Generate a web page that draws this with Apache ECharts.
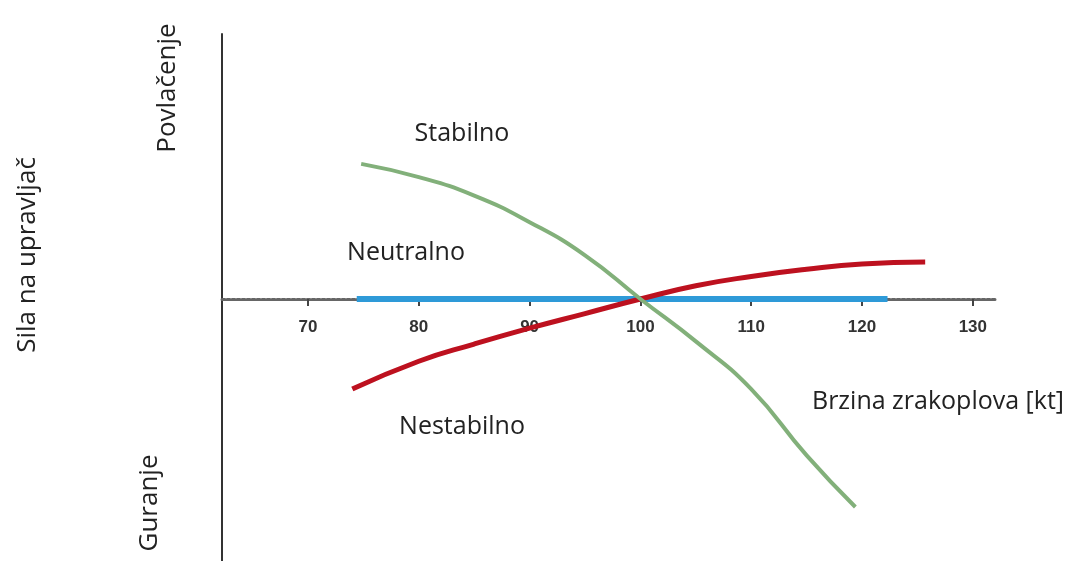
<!DOCTYPE html>
<html>
<head>
<meta charset="utf-8">
<title>Sila na upravljač</title>
<script src="https://cdn.jsdelivr.net/npm/echarts@6/dist/echarts.min.js"></script>
<style>
  html, body { margin: 0; padding: 0; background: #fff; }
  #chart { width: 1078px; height: 561px; }
</style>
</head>
<body>
<div id="chart"></div>
<script>
// brzina [kt] i sila (proizvoljne jedinice), očitano sa slike
const stabilnoX = [74.8, 80, 85, 90, 95, 100, 105, 110, 115, 119.4]
const stabilnoY = [5.1, 4.6, 3.9, 2.9, 1.65, 0, -1.6, -3.4, -5.9, -7.85]

const nestabilnoX = [74, 80, 85, 90, 95, 100, 105, 110, 115, 120, 125.7]
const nestabilnoY = [-3.4, -2.35, -1.7, -1.1, -0.55, 0, 0.5, 0.85, 1.12, 1.32, 1.4]

const neutralnoX = [74.4, 122.3]
const neutralnoY = [0, 0]

const tickValues = [70, 80, 90, 100, 110, 120, 130]

const pairs = (xs, ys) => xs.map((x, i) => [x, ys[i]])

const font = '"Open Sans", "Noto Sans", sans-serif'
const txt = (text, x, y, rot, size) => ({
  type: 'text',
  x, y,
  rotation: rot ? Math.PI / 2 : 0,
  style: {
    text,
    font: (size || 25) + 'px ' + font,
    fill: '#222',
    align: 'center',
    verticalAlign: 'middle'
  }
})

const chart = echarts.init(document.getElementById('chart'), null, { renderer: 'canvas' })

chart.setOption({
  backgroundColor: '#fff',
  animation: false,
  grid: { left: 222, right: 83, top: 34, height: 530, outerBoundsMode: 'none' },
  xAxis: {
    type: 'value',
    min: 62.24,
    max: 132.0,
    position: 'bottom',
    offset: -265,   // os brzine prolazi kroz silu = 0
    splitLine: { show: false },
    axisLine: {
      show: true,
      onZero: false,
      lineStyle: { color: '#666', width: 3, type: [3, 2] }
    },
    axisTick: {
      show: true,
      customValues: tickValues,
      length: 7,
      lineStyle: { color: '#444', width: 2 }
    },
    axisLabel: {
      customValues: tickValues,
      margin: 20,
      color: '#333',
      fontSize: 17,
      fontWeight: 'bold',
      fontFamily: '"Liberation Sans", Arial, sans-serif'
    }
  },
  yAxis: {
    type: 'value',
    min: -10,
    max: 10,
    splitLine: { show: false },
    axisTick: { show: false },
    axisLabel: { show: false },
    axisLine: {
      show: true,
      onZero: false,
      lineStyle: { color: '#333', width: 2 }
    }
  },
  series: [
    {
      name: 'Neutralno',
      type: 'line',
      data: pairs(neutralnoX, neutralnoY),
      symbol: 'none',
      z: 3,
      lineStyle: { color: '#2e9ad8', width: 6 }
    },
    {
      name: 'Nestabilno',
      type: 'line',
      data: pairs(nestabilnoX, nestabilnoY),
      smooth: true,
      symbol: 'none',
      z: 4,
      lineStyle: { color: '#bd111f', width: 5 }
    },
    {
      name: 'Stabilno',
      type: 'line',
      data: pairs(stabilnoX, stabilnoY),
      smooth: true,
      symbol: 'none',
      z: 5,
      lineStyle: { color: '#82b07a', width: 4 }
    }
  ],
  graphic: [
    txt('Povlačenje', 168, 88, true, 26),
    txt('Sila na upravljač', 28, 255, true, 26),
    txt('Guranje', 150, 503, true, 26),
    txt('Stabilno', 462, 134),
    txt('Neutralno', 406, 253),
    txt('Nestabilno', 462, 427),
    txt('Brzina zrakoplova [kt]', 938, 402)
  ]
})
</script>
</body>
</html>
